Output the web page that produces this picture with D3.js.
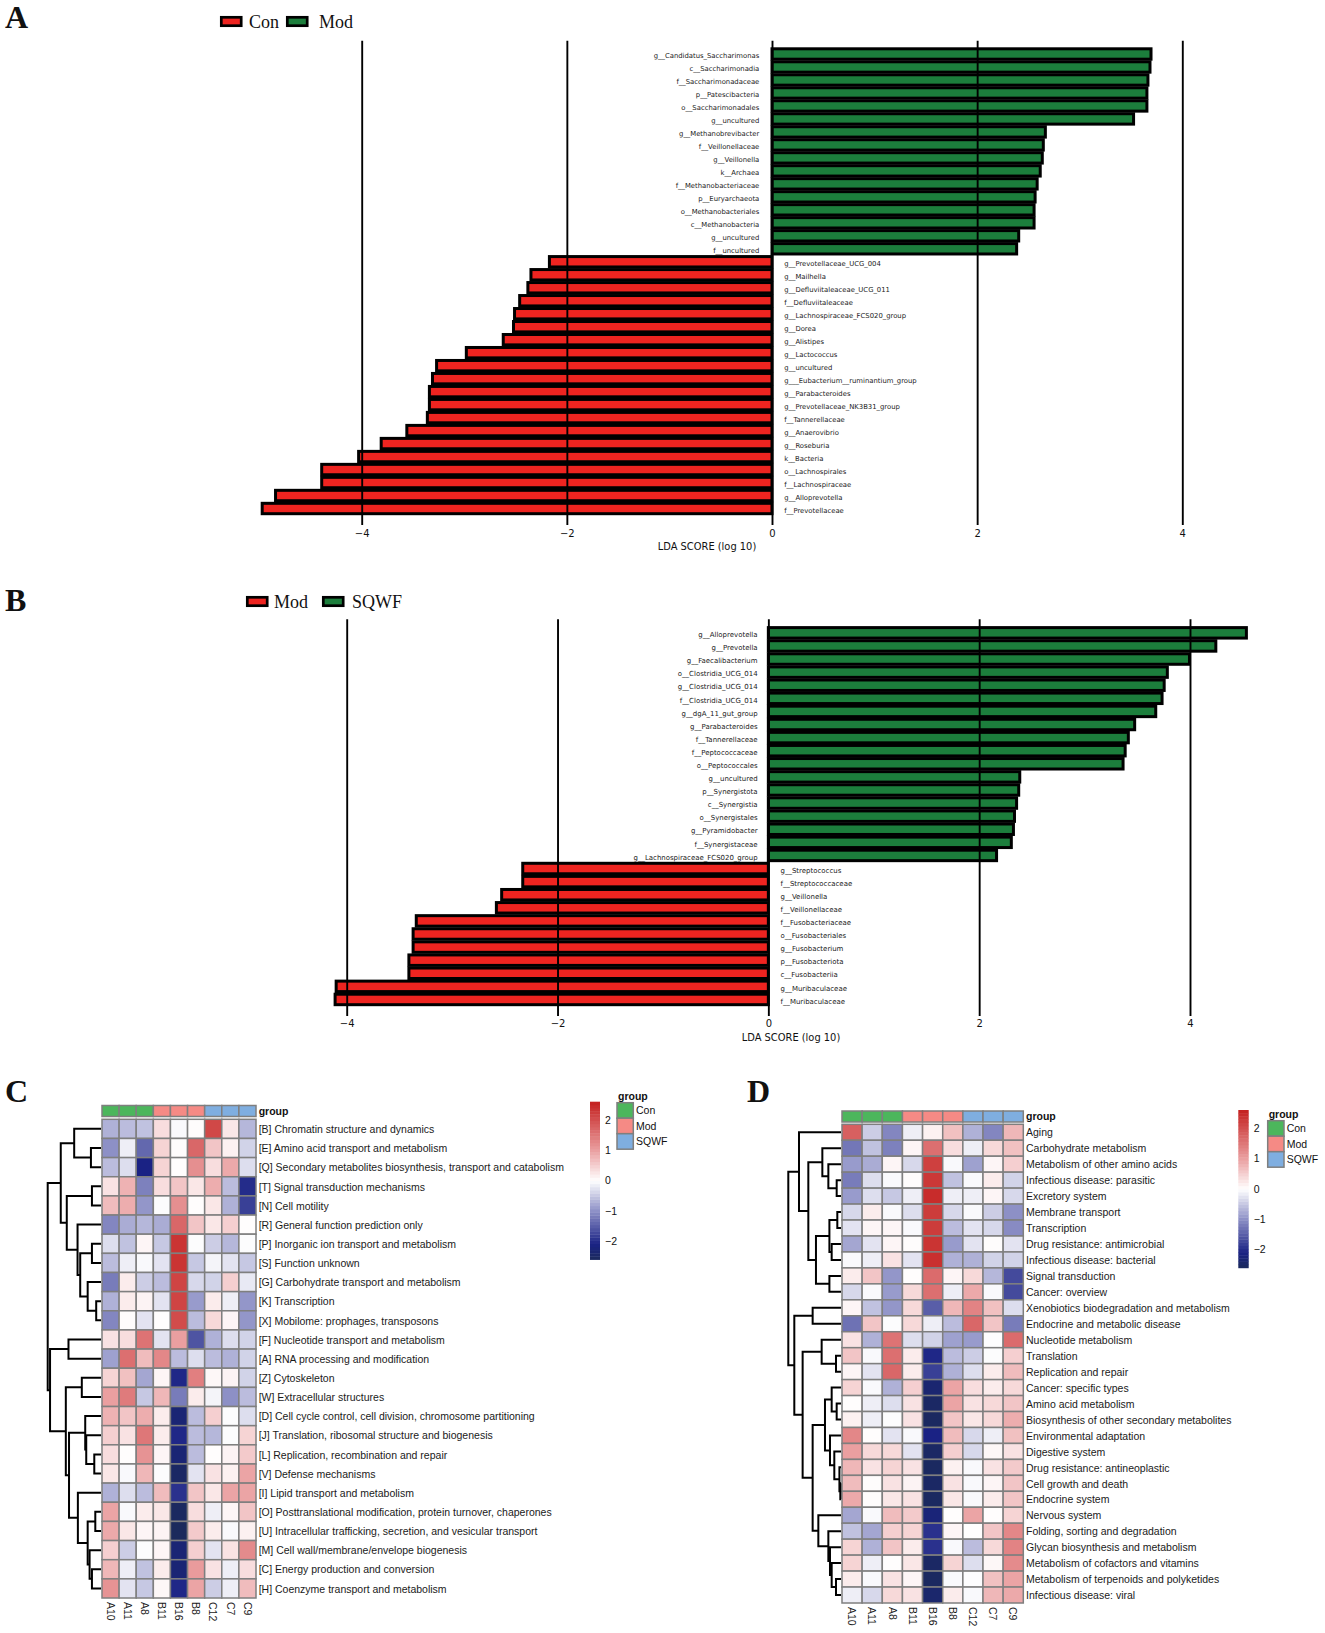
<!DOCTYPE html>
<html><head><meta charset="utf-8">
<script src="https://cdnjs.cloudflare.com/ajax/libs/d3/7.8.5/d3.min.js"></script>
<style>html,body{margin:0;padding:0;background:#fff}svg{display:block}</style>
</head><body><svg id="c" width="1325" height="1633"></svg>
<script>
const taxaPosA = ["g__Candidatus_Saccharimonas","c__Saccharimonadia","f__Saccharimonadaceae","p__Patescibacteria","o__Saccharimonadales","g__uncultured","g__Methanobrevibacter","f__Veillonellaceae","g__Veillonella","k__Archaea","f__Methanobacteriaceae","p__Euryarchaeota","o__Methanobacteriales","c__Methanobacteria","g__uncultured","f__uncultured"];
const scoresPosA = [3.695,3.685,3.665,3.655,3.655,3.525,2.665,2.645,2.635,2.615,2.585,2.565,2.555,2.555,2.405,2.385];
const taxaNegA = ["g__Prevotellaceae_UCG_004","g__Mailhella","g__Defluviitaleaceae_UCG_011","f__Defluviitaleaceae","g__Lachnospiraceae_FCS020_group","g__Dorea","g__Alistipes","g__Lactococcus","g__uncultured","g___Eubacterium__ruminantium_group","g__Parabacteroides","g__Prevotellaceae_NK3B31_group","f__Tannerellaceae","g__Anaerovibrio","g__Roseburia","k__Bacteria","o__Lachnospirales","f__Lachnospiraceae","g__Alloprevotella","f__Prevotellaceae"];
const scoresNegA = [-2.17,-2.35,-2.38,-2.46,-2.51,-2.52,-2.62,-2.98,-3.27,-3.31,-3.34,-3.34,-3.36,-3.56,-3.81,-4.03,-4.39,-4.39,-4.84,-4.97];
const taxaPosB = ["g__Alloprevotella","g__Prevotella","g__Faecalibacterium","o__Clostridia_UCG_014","g__Clostridia_UCG_014","f__Clostridia_UCG_014","g__dgA_11_gut_group","g__Parabacteroides","f__Tannerellaceae","f__Peptococcaceae","o__Peptococcales","g__uncultured","p__Synergistota","c__Synergistia","o__Synergistales","g__Pyramidobacter","f__Synergistaceae","g__Lachnospiraceae_FCS020_group"];
const scoresPosB = [4.535,4.245,3.995,3.785,3.755,3.735,3.675,3.475,3.415,3.385,3.365,2.385,2.375,2.355,2.335,2.325,2.305,2.165];
const taxaNegB = ["g__Streptococcus","f__Streptococcaceae","g__Veillonella","f__Veillonellaceae","f__Fusobacteriaceae","o__Fusobacteriales","g__Fusobacterium","p__Fusobacteriota","c__Fusobacteriia","g__Muribaculaceae","f__Muribaculaceae"];
const scoresNegB = [-2.33,-2.33,-2.53,-2.58,-3.34,-3.37,-3.37,-3.41,-3.41,-4.10,-4.11];
const ldaTicks = [-4,-2,0,2,4];
const samples = ["A10","A11","A8","B11","B16","B8","C12","C7","C9"];
const sampleGroups = ["Con","Con","Con","Mod","Mod","Mod","SQWF","SQWF","SQWF"];
const groupNames = ["Con","Mod","SQWF"];
const rowsC = ["[B] Chromatin structure and dynamics","[E] Amino acid transport and metabolism","[Q] Secondary metabolites biosynthesis, transport and catabolism","[T] Signal transduction mechanisms","[N] Cell motility","[R] General function prediction only","[P] Inorganic ion transport and metabolism","[S] Function unknown","[G] Carbohydrate transport and metabolism","[K] Transcription","[X] Mobilome: prophages, transposons","[F] Nucleotide transport and metabolism","[A] RNA processing and modification","[Z] Cytoskeleton","[W] Extracellular structures","[D] Cell cycle control, cell division, chromosome partitioning","[J] Translation, ribosomal structure and biogenesis","[L] Replication, recombination and repair","[V] Defense mechanisms","[I] Lipid transport and metabolism","[O] Posttranslational modification, protein turnover, chaperones","[U] Intracellular trafficking, secretion, and vesicular transport","[M] Cell wall/membrane/envelope biogenesis","[C] Energy production and conversion","[H] Coenzyme transport and metabolism"];
const valuesC = [
[-.7,-.6,-.55,.35,-.05,.03,2.1,.25,-.65],[-1,-.15,-1.4,.45,.03,1.7,.6,.15,-.4],[-.6,-.3,-2.1,.45,.02,1.2,.35,.9,-.3],
[.3,.8,-1.15,.35,.6,.25,.85,-.6,-2],[.7,.85,-.95,-.03,1.2,.02,.25,-.7,-1.8],[-1.1,-.75,-.65,-.75,1.7,.6,.25,.5,.02],
[-.3,-.55,.1,-.5,2.35,-.03,-.45,-.65,-.03],[-.6,-.15,-.05,-.25,2.35,-.5,-.1,-.25,-.5],[-1.2,.2,-.45,-.6,2.15,-.35,-.4,.5,-.2],
[-.7,.2,.12,-.25,2.15,-.9,.2,-.15,-.95],[-1.1,.03,-.25,.02,2.05,-.6,.4,.1,-.95],[.3,.35,1.55,-.25,1,-1.6,-.7,-.3,-.4],
[-.85,1.6,.7,1.3,-.6,-.3,-.6,-.7,-.4],[.45,.65,-.8,.1,-2.05,1.4,.08,.12,-.4],[1,1.45,-.5,.75,-1.2,.2,-.1,-1,-.6],
[.8,.6,.85,.2,-2.3,-.6,.5,-.03,-.3],[.5,.3,1.5,.2,-2.05,-.6,-.65,-.03,.45],[.35,.02,1.15,.1,-2.3,-.6,.02,.12,.55],
[.25,-.05,.75,-.03,-2.5,-.25,.3,.15,.95],[-.7,-.3,-.6,.7,-1.95,.6,.25,.95,.95],[.95,-.05,.2,.25,-2.55,.35,-.15,.1,.6],
[.9,.25,.1,.12,-2.6,.55,.2,-.05,.15],[.5,-.45,-.03,.1,-2.3,.5,-.25,.3,1.25],[.75,-.15,-.55,.2,-2.3,1.05,.3,-.15,.35],
[1.15,-.25,-.5,.08,-2.05,.95,-.45,-.15,.7]];
const rowsD = ["Aging","Carbohydrate metabolism","Metabolism of other amino acids","Infectious disease: parasitic","Excretory system","Membrane transport","Transcription","Drug resistance: antimicrobial","Infectious disease: bacterial","Signal transduction","Cancer: overview","Xenobiotics biodegradation and metabolism","Endocrine and metabolic disease","Nucleotide metabolism","Translation","Replication and repair","Cancer: specific types","Amino acid metabolism","Biosynthesis of other secondary metabolites","Environmental adaptation","Digestive system","Drug resistance: antineoplastic","Cell growth and death","Endocrine system","Nervous system","Folding, sorting and degradation","Glycan biosynthesis and metabolism","Metabolism of cofactors and vitamins","Metabolism of terpenoids and polyketides","Infectious disease: viral"];
const valuesD = [
[1.8,-.45,-1.1,-.15,.15,.65,-.7,-1.1,.75],[-1.25,-.55,-1.15,.1,1.6,.35,-.15,.4,.65],[-.9,-.75,.1,-.35,2.2,-.05,-.85,.1,.5],
[-1.2,-.3,-.05,.03,2.3,-.55,-.05,.2,-.4],[-.9,-.3,-.5,-.15,2.45,-.15,-.15,.1,-.35],[-.35,.2,-.05,-.3,2.25,-.35,-.05,-.45,-1],
[-.25,.1,.1,-.05,2.25,-.6,-.25,-.35,-1.05],[-.8,-.25,.1,.03,2.35,-.9,-.25,.03,-.25],[-.05,-.15,.3,-.25,2.4,-.7,-.7,-.4,-.4],
[.2,.6,-.95,.02,1.65,.1,.4,-.65,-1.7],[-.35,-.05,-.9,.4,1.6,-.15,.9,-.05,-1.7],[.1,-.55,-.95,.4,-1.5,.75,1.35,.65,-.3],
[-1.3,.6,-.03,.4,-.15,-.6,1.7,.6,-1.2],[.3,-.7,1.55,-.3,-.4,-.85,-.9,-.02,1.65],[.6,-.05,1.6,.2,-2.05,-.6,-.45,-.03,.5],
[.1,-.25,1.7,.2,-1.8,-.7,-.3,.2,.7],[.45,-.05,-.7,.5,-2.35,.95,.35,.2,.4],[.02,-.15,-.3,.3,-2.5,.95,.3,.4,.6],
[.15,-.15,-.03,.3,-2.55,.6,.25,.4,.85],[1.3,.02,-.25,-.05,-2.1,.7,-.35,-.15,.65],[1,.4,.4,-.25,-2.5,.5,-.35,.08,.3],
[.75,.3,.45,.3,-2.55,.15,-.05,.3,.55],[.7,.03,.3,.12,-2.5,.3,-.05,.1,.6],[.9,.03,.25,.3,-2.55,.25,-.05,.2,.6],
[-.8,-.05,.7,.55,-2.25,.02,.95,.02,.45],[-.55,-.8,.5,.45,-1.95,.1,.01,.6,1.3],[.45,-.7,.6,.2,-1.95,-.05,-.6,.4,1.35],
[.45,-.15,.02,.25,-2.5,.45,-.3,.08,1.25],[.2,-.05,.3,.1,-2.55,-.05,-.02,.65,.95],[-.15,-.35,.4,.3,-2.4,.2,-.05,.75,.9]];
// dendrograms: [height, childA, childB]; a number is a row index
const treeC = [1,
 [.755,[.503,0,[.189,1,2]],[.642,[.17,3,4],[.44,5,[.39,[.17,6,7],[.25,8,[.09,9,10]]]]]],
 [.956,[.61,11,12],[.66,[.36,13,14],[.60,[.296,15,[.277,16,[.126,17,18]]],[.434,19,[.25,[.107,20,21],[.214,22,[.17,23,24]]]]]]]];
const treeD = [1,
 [.797,0,[.62,[.354,1,[.24,2,[.082,3,4]]],[.475,[.22,[.07,5,6],[.177,7,8]],[.22,9,10]]]],
 [.886,[.538,11,12],[.728,[.367,13,[.095,14,15]],[.538,[.304,[.177,16,[.082,17,18]],[.209,19,[.127,20,[.03,21,[.013,22,23]]]]],[.43,24,[.24,25,[.209,26,[.177,27,[.095,28,29]]]]]]]]];
const colorStops = [-2.6,-2.1,-1,0,1,2.6];
const colorRange = ["#1b2a5c","#1a2284","#8d90c6","#ffffff","#ea9fa0","#c4201f"];
const groupColors = ["#4cb65c","#f58a85","#7faee0"];
const legendTicks = [-2,-1,0,1,2];

const svg = d3.select("#c");
const SANS = "'Liberation Sans',Arial,sans-serif", DEJA = "'DejaVu Sans',sans-serif", SERIF = "'Liberation Serif',serif";
const RED = "#ee2420", GREEN = "#1c7e3c";
const color = d3.scaleLinear().domain(colorStops).range(colorRange).clamp(true);

function letter(t,x,y){svg.append("text").attr("x",x).attr("y",y).attr("font-family",SERIF).attr("font-weight","bold").attr("font-size",32).attr("fill","#111").text(t);}

function lda(o){
  const g = svg.append("g");
  const names = o.pos.concat(o.neg), vals = o.posV.concat(o.negV);
  const x = d3.scaleLinear().domain([-4,4]).range([o.x4n,o.x4p]);
  const y = d3.scaleBand().domain(d3.range(names.length)).range([o.top,o.bottom]);
  g.selectAll("rect").data(vals).join("rect")
    .attr("x",d=>Math.min(x(0),x(d))).attr("width",d=>Math.abs(x(d)-x(0)))
    .attr("y",(d,i)=>y(i)+y.bandwidth()*.1).attr("height",y.bandwidth()*.8)
    .attr("fill",d=>d>0?GREEN:RED).attr("stroke","#000").attr("stroke-width",3);
  g.selectAll("text.lab").data(names).join("text").attr("class","lab")
    .attr("x",(d,i)=>i<o.pos.length?o.labR:o.labL)
    .attr("y",(d,i)=>y(i)+y.bandwidth()/2+4.2)
    .attr("text-anchor",(d,i)=>i<o.pos.length?"end":"start")
    .attr("font-family",DEJA).attr("font-size",o.labFs).attr("fill","#222").text(d=>d);
  const ax = d3.axisBottom(x).tickValues(ldaTicks).tickSize(-(o.axisY-o.lineTop)).tickPadding(o.pad).tickFormat(d=>d<0?"\u2212"+(-d):d);
  const a = g.append("g").attr("transform",`translate(0,${o.axisY})`).call(ax);
  a.select(".domain").remove();
  a.selectAll("line").attr("stroke","#000").attr("stroke-width",1.9);
  a.selectAll("text").attr("font-family",DEJA).attr("font-size",10).attr("fill","#111");
  g.append("text").attr("x",o.xlabX).attr("y",o.xlabY).attr("text-anchor","middle").attr("font-family",DEJA).attr("font-size",9.9).attr("fill","#111").text("LDA SCORE (log 10)");
  o.legend.forEach(l=>{
    g.append("rect").attr("x",l.x+1.3).attr("y",o.legY+1.3).attr("width",l.w-2.6).attr("height",o.legH-2.6).attr("fill",l.c).attr("stroke","#000").attr("stroke-width",2.7);
    g.append("text").attr("x",l.tx).attr("y",o.legY+11.5).attr("font-family",SERIF).attr("font-size",18).attr("fill","#111").text(l.t);
  });
}

function dendro(tree,y,x){
  const segs=[];
  (function walk(n){
    if(typeof n==="number") return {h:0,y:y(n)+y.bandwidth()/2};
    const a=walk(n[1]),b=walk(n[2]);
    segs.push([[x(a.h),a.y],[x(n[0]),a.y],[x(n[0]),b.y],[x(b.h),b.y]]);
    return {h:n[0],y:(a.y+b.y)/2};
  })(tree);
  return segs;
}

function heat(o){
  const g = svg.append("g"), GR="#7f7f7f";
  const x = d3.scaleBand().domain(samples).range([o.x0,o.x1]);
  const y = d3.scaleBand().domain(d3.range(o.rows.length)).range([o.y0,o.y1]);
  const grp = d3.scaleOrdinal().domain(groupNames).range(groupColors);
  g.selectAll("rect.ann").data(samples).join("rect").attr("class","ann")
    .attr("x",d=>x(d)).attr("width",x.bandwidth()).attr("y",o.ay0).attr("height",o.ay1-o.ay0)
    .attr("fill",(d,i)=>grp(sampleGroups[i])).attr("stroke",GR).attr("stroke-width",1.5);
  g.append("text").attr("x",o.labX).attr("y",(o.ay0+o.ay1)/2+3.8).attr("font-family",SANS).attr("font-weight","bold").attr("font-size",o.fs).attr("fill","#111").text("group");
  o.vals.forEach((row,r)=>{
    g.selectAll(null).data(row).join("rect")
      .attr("x",(d,i)=>x(samples[i])).attr("width",x.bandwidth()).attr("y",y(r)).attr("height",y.bandwidth())
      .attr("fill",d=>color(d)).attr("stroke",GR).attr("stroke-width",1.5);
  });
  g.selectAll("text.row").data(o.rows).join("text").attr("class","row")
    .attr("x",o.labX).attr("y",(d,i)=>y(i)+y.bandwidth()/2+4.2)
    .attr("font-family",SANS).attr("font-size",o.fs).attr("fill","#1a1a1a").text(d=>d);
  g.selectAll("text.col").data(samples).join("text").attr("class","col")
    .attr("transform",d=>`translate(${x(d)+x.bandwidth()/2-3.8},${o.y1+4}) rotate(90)`)
    .attr("font-family",SANS).attr("font-size",o.fs).attr("fill","#1a1a1a").text(d=>d);
  const dx = d3.scaleLinear().domain([0,1]).range([o.x0-1,o.dx]);
  const line = d3.line();
  g.selectAll("path.den").data(dendro(o.tree,y,dx)).join("path").attr("class","den").attr("d",line)
    .attr("fill","none").attr("stroke","#000").attr("stroke-width",2);
  const zAxis = d3.scaleLinear().domain([-2.6,2.6]).range([o.cb.y+30.35*5.2,o.cb.y]);
  const steps = d3.range(-2.6,2.6,5.2/50);
  g.selectAll("rect.cb").data(steps).join("rect").attr("class","cb")
    .attr("x",o.cb.x).attr("width",o.cb.w).attr("y",d=>zAxis(d+5.2/50)).attr("height",zAxis(0)-zAxis(5.2/50)+.4)
    .attr("fill",d=>color(d+2.6/50));
  const cax = d3.axisRight(zAxis).tickValues(legendTicks).tickSize(0).tickPadding(5).tickFormat(d=>d<0?"\u2212"+(-d):d);
  const a = g.append("g").attr("transform",`translate(${o.cb.x+o.cb.w},0)`).call(cax);
  a.select(".domain").remove();
  a.selectAll("text").attr("font-family",SANS).attr("font-size",o.fs).attr("fill","#111");
  const ly = d3.scaleBand().domain(groupNames).range([o.lg.y,o.lg.y+46.5]);
  g.selectAll("rect.lg").data(groupNames).join("rect").attr("class","lg")
    .attr("x",o.lg.x).attr("width",16.3).attr("y",d=>ly(d)).attr("height",ly.bandwidth())
    .attr("fill",d=>grp(d)).attr("stroke",GR).attr("stroke-width",1.5);
  g.selectAll("text.lg").data(groupNames).join("text").attr("class","lg")
    .attr("x",o.lg.x+19).attr("y",d=>ly(d)+ly.bandwidth()/2+3.8)
    .attr("font-family",SANS).attr("font-size",o.fs).attr("fill","#111").text(d=>d);
  g.append("text").attr("x",o.lg.x+1).attr("y",o.lg.y-3.2).attr("font-family",SANS).attr("font-weight","bold").attr("font-size",o.fs).attr("fill","#111").text("group");
}

letter("A",5,27.7); letter("B",5,611); letter("C",5,1101.5); letter("D",747,1101.7);

lda({pos:taxaPosA,neg:taxaNegA,posV:scoresPosA,negV:scoresNegA,x4n:361.7,x4p:1182.3,top:47.5,bottom:515,labR:759.3,labL:784.2,labFs:6.85,axisY:525,lineTop:40.7,pad:4.6,xlabX:707,xlabY:549.5,
 legY:16,legH:11,legend:[{x:220,w:22.5,c:RED,t:"Con",tx:249},{x:286,w:22.5,c:GREEN,t:"Mod",tx:319}]});
lda({pos:taxaPosB,neg:taxaNegB,posV:scoresPosB,negV:scoresNegB,x4n:346.7,x4p:1190,top:626.3,bottom:1006,labR:757.6,labL:780.5,labFs:6.97,axisY:1016,lineTop:619.3,pad:4.2,xlabX:791,xlabY:1041.3,
 legY:596,legH:11,legend:[{x:246,w:22.5,c:RED,t:"Mod",tx:274},{x:322,w:22.5,c:GREEN,t:"SQWF",tx:352}]});

heat({rows:rowsC,vals:valuesC,tree:treeC,x0:102,x1:256,y0:1119.3,y1:1598,ay0:1105.5,ay1:1116.5,labX:258.7,fs:10.5,dx:47.7,
 cb:{x:590,w:10,y:1101.7},lg:{x:617,y:1102.7}});
heat({rows:rowsD,vals:valuesD,tree:treeD,x0:842,x1:1023.3,y0:1124.3,y1:1603,ay0:1111,ay1:1122,labX:1026,fs:10.5,dx:788.3,
 cb:{x:1238.3,w:10.4,y:1110},lg:{x:1267.7,y:1120.7}});
</script></body></html>
